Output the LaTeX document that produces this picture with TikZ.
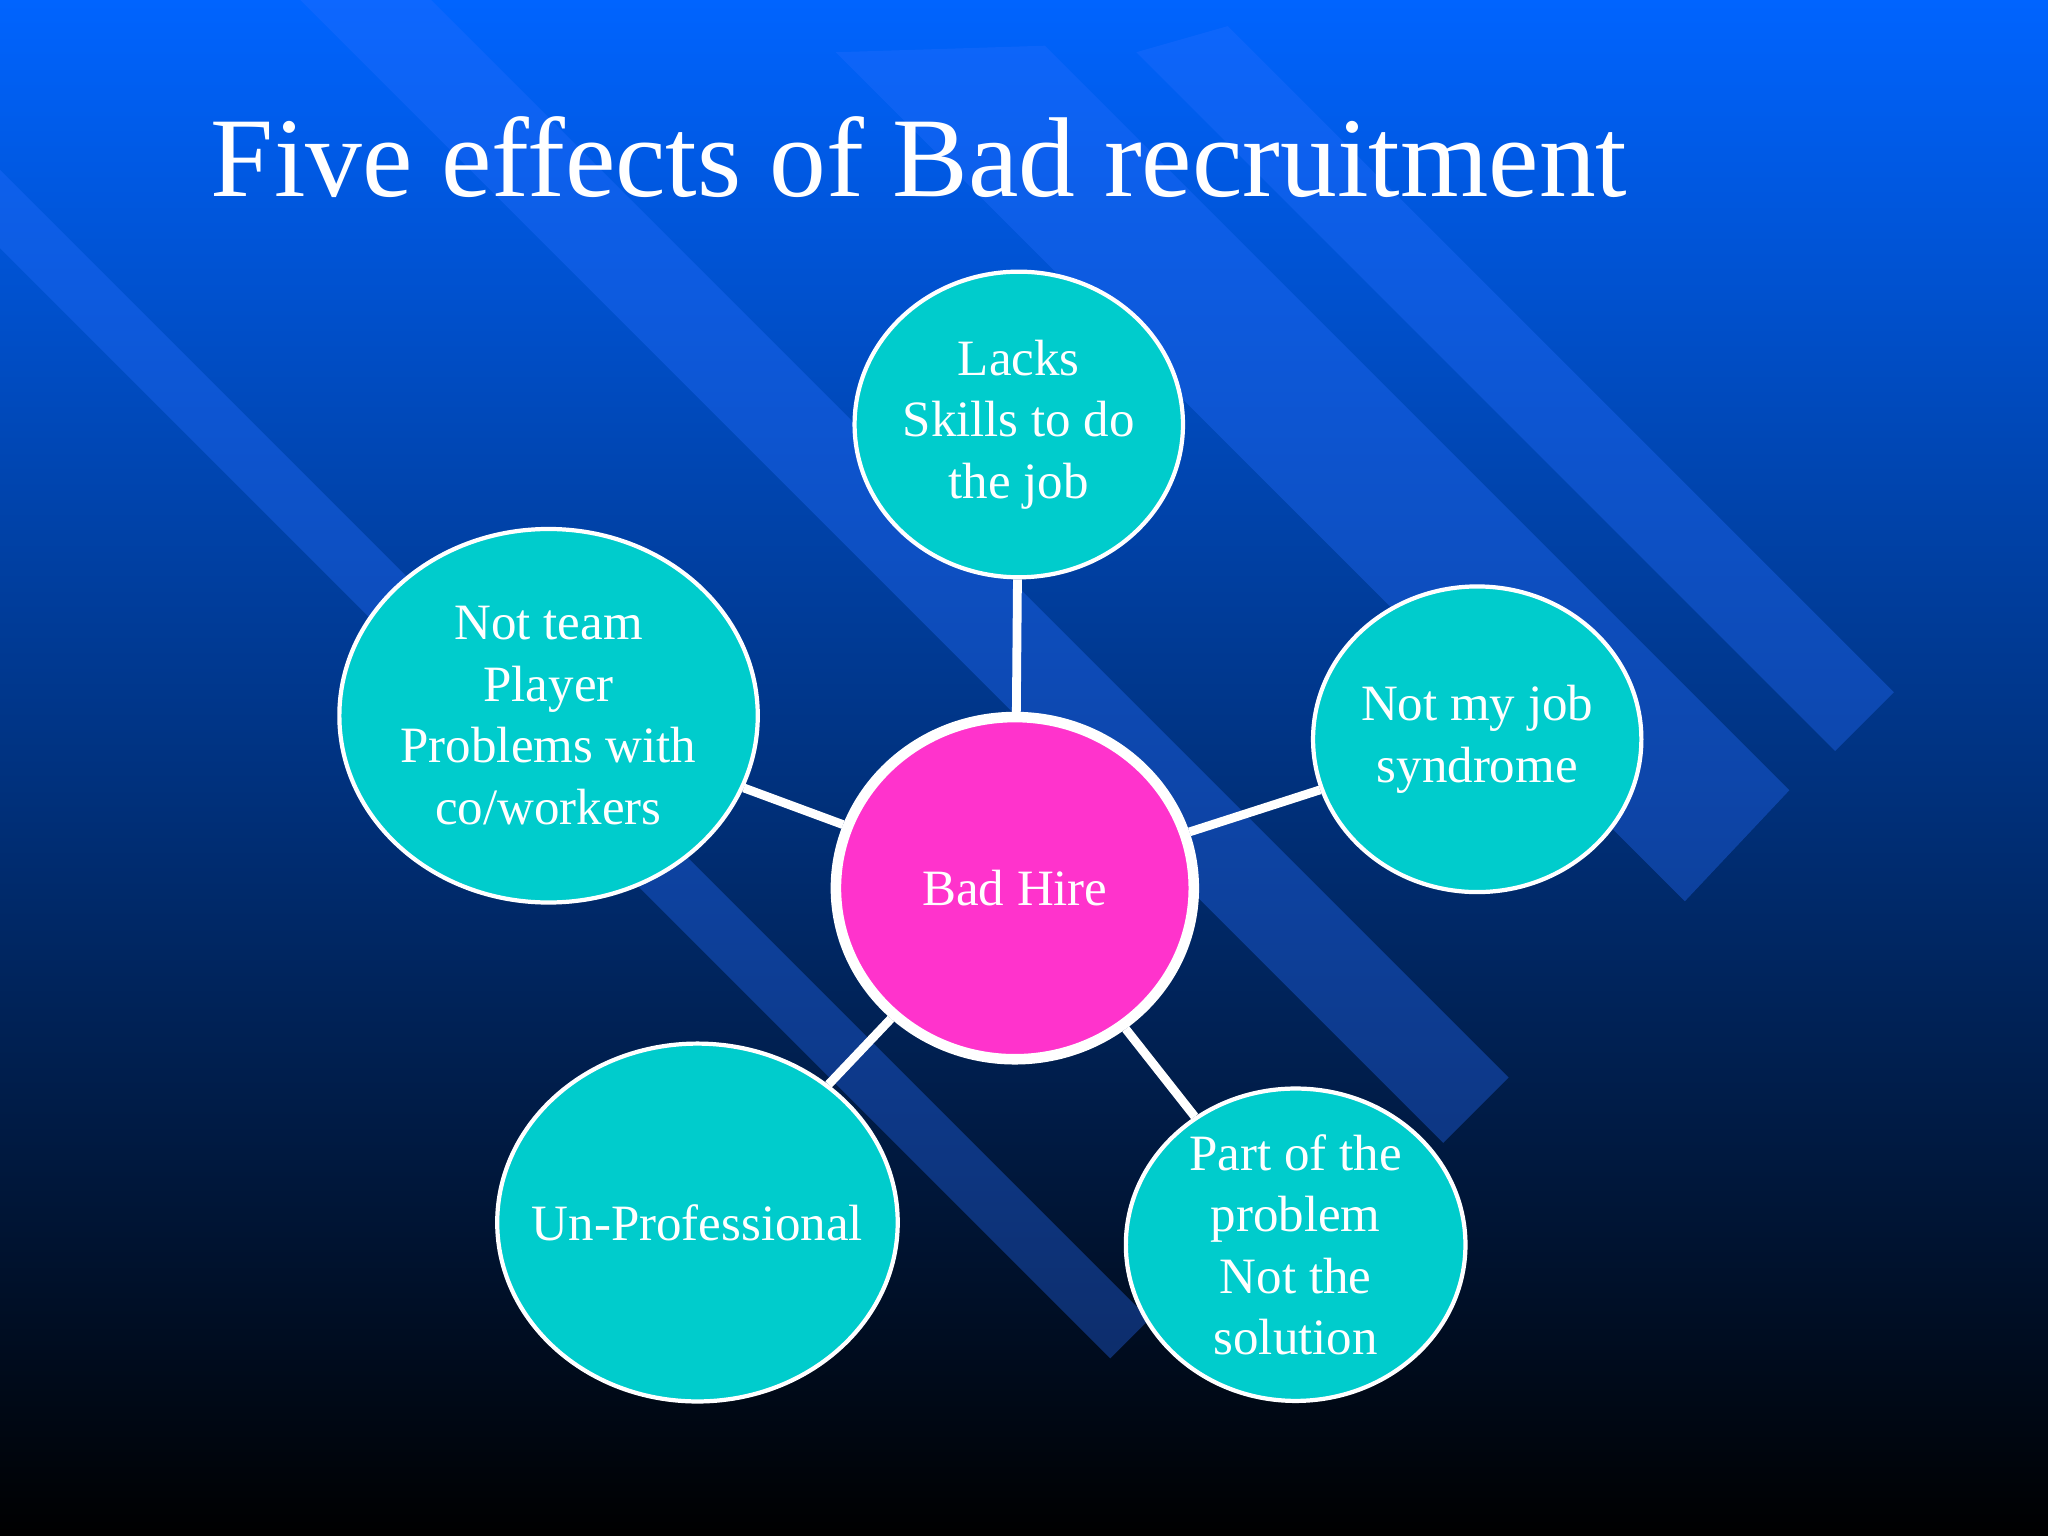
\documentclass[tikz,border=0pt]{standalone}
\usepackage{fontspec}
\setmainfont{Liberation Serif}
\usetikzlibrary{shapes.geometric}
\pgfdeclarelayer{bg}
\pgfdeclarelayer{links}
\pgfsetlayers{bg,links,main}
\begin{document}
\begin{tikzpicture}[x=0.013061cm,y=-0.013061cm,
  leaf/.style={ellipse,draw=white,line width=1.2pt,fill={rgb,255:red,0;green,204;blue,204},text=white,align=center,font=\fontsize{14.5}{17.5}\selectfont,inner sep=0pt},
  link/.style={draw=white,line width=2.5pt},
  band/.style={fill={rgb,255:red,40;green,110;blue,255},fill opacity=0.35}]
\begin{pgfonlayer}{bg}
\useasboundingbox (0,0) rectangle (1568,1176);
\shade[top color={rgb,255:red,0;green,100;blue,255},bottom color=black] (0,0) rectangle (1568,1176);
\fill[band] (940,20) -- (1450,530) -- (1405,575) -- (870,40) -- cycle;
\fill[band] (800,35) -- (1370,605) -- (1290,690) -- (640,40) -- cycle;
\fill[band] (330,0) -- (1155,825) -- (1105,875) -- (230,0) -- cycle;
\fill[band] (0,130) -- (880,1010) -- (850,1040) -- (0,190) -- cycle;
\end{pgfonlayer}
\node[text=white,font=\fontsize{32.3}{36}\selectfont,anchor=west] (t) at (152,120) {Five effects of Bad recruitment};
\node[leaf,minimum width={246*0.013061cm},minimum height={234*0.013061cm}] (a) at (780,325) {Lacks\\Skills to do\\the job};
\node[leaf,minimum width={246*0.013061cm},minimum height={234*0.013061cm}] (b) at (1131,566) {Not my job\\syndrome};
\node[leaf,minimum width={260*0.013061cm},minimum height={236*0.013061cm}] (d) at (992,953) {Part of the\\problem\\Not the\\solution};
\node[leaf,inner xsep=-0.24cm,minimum width={304*0.013061cm},minimum height={274*0.013061cm}] (e) at (534,936) {Un-Professional};
\node[leaf,minimum width={320*0.013061cm},minimum height={286*0.013061cm}] (f) at (420,548) {Not team\\Player\\Problems with\\co/workers};
\node[ellipse,draw=white,line width=3pt,fill={rgb,255:red,255;green,51;blue,204},text=white,font=\fontsize{14.5}{17.5}\selectfont,minimum width={274*0.013061cm},minimum height={262*0.013061cm},inner sep=0pt] (c) at (777,680) {Bad Hire};
\begin{pgfonlayer}{links}
\foreach \n in {a,b,d,e,f} \draw[link] (c) -- (\n);
\end{pgfonlayer}
\end{tikzpicture}
\end{document}
